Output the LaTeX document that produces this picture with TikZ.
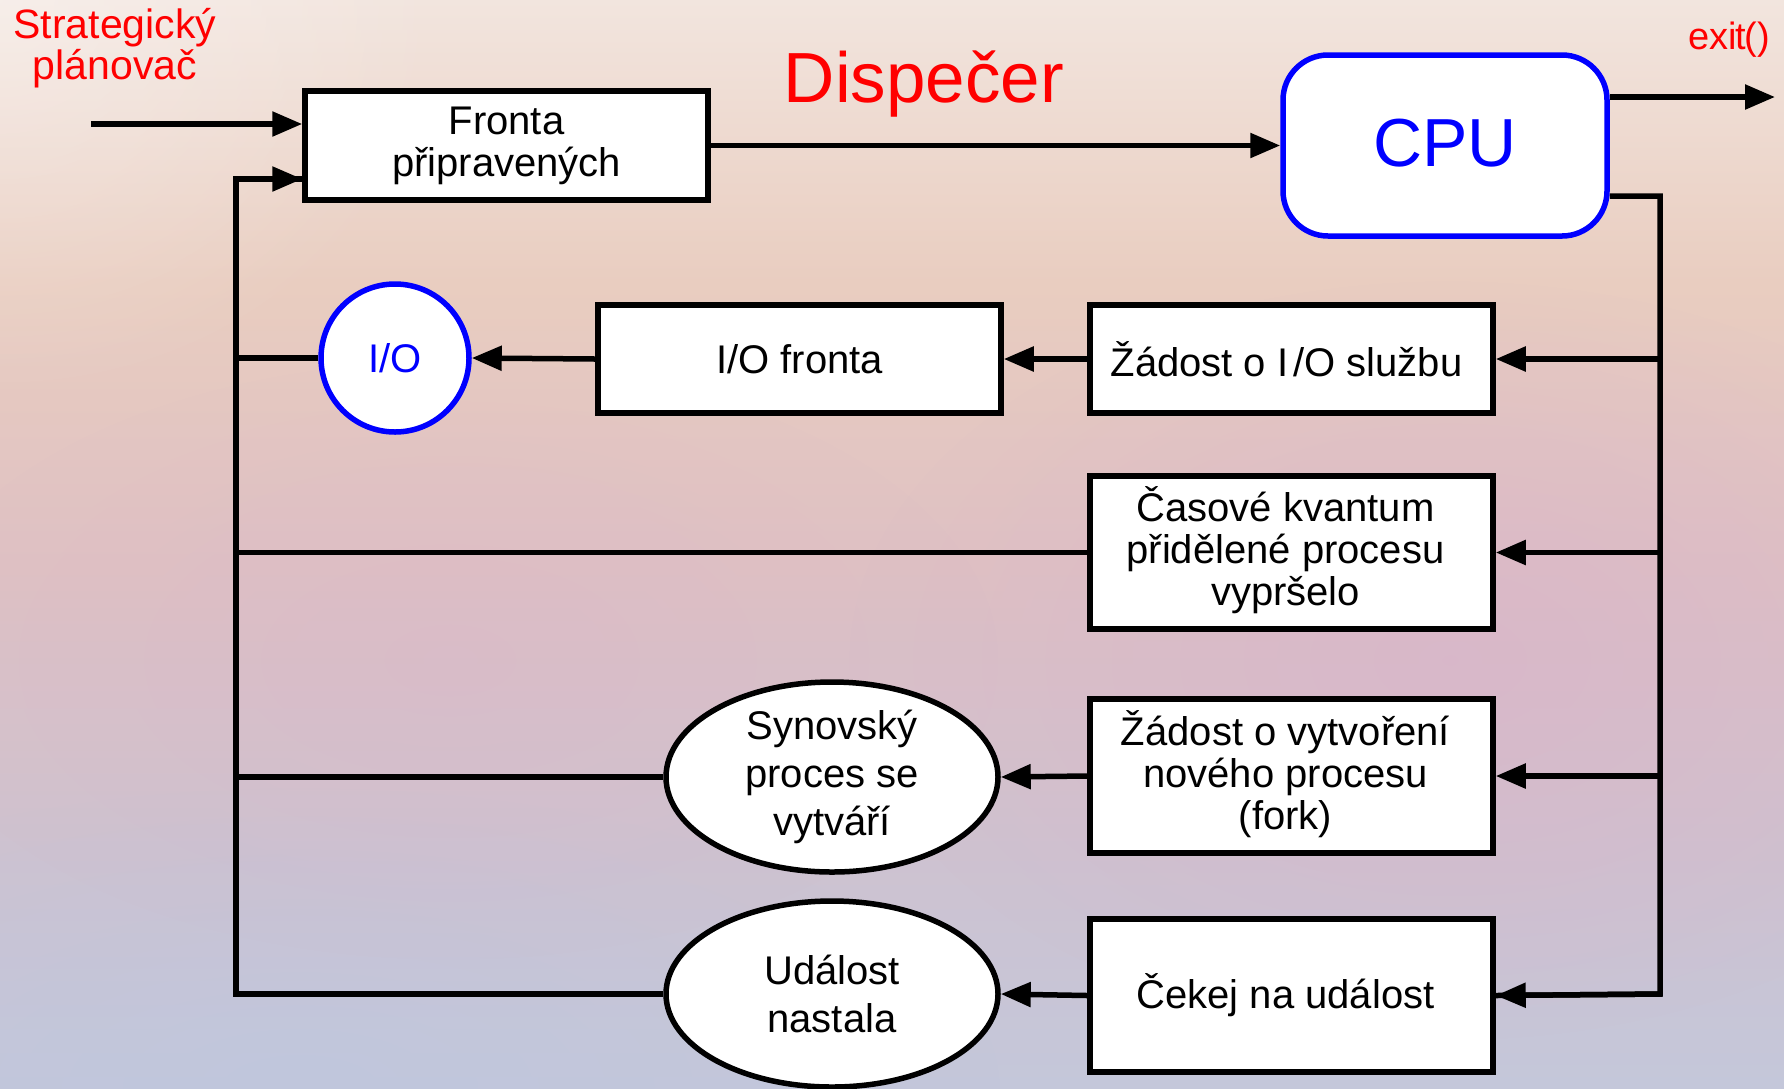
\documentclass[tikz,border=0pt]{standalone}
\usepackage{fontspec}
\setmainfont{Liberation Sans}
\usetikzlibrary{arrows.meta,shapes.geometric,fadings}
\tikzfading[name=blobfade, inner color=transparent!0, outer color=transparent!100]
\definecolor{lblue}{HTML}{0000FF}
\definecolor{lred}{HTML}{FF0000}
\definecolor{bgA}{HTML}{F2E5DE}
\definecolor{bgB}{HTML}{E9CDC0}
\definecolor{bgC}{HTML}{DFC1C3}
\definecolor{bgD}{HTML}{CEC2D0}
\definecolor{bgE}{HTML}{C4C7DA}
\definecolor{bgpink}{HTML}{D8B4CA}
\definecolor{bgblue}{HTML}{BCC6E0}
\pgfdeclareverticalshading{bgshade}{100bp}{color(0bp)=(bgE); color(25bp)=(bgE); color(36bp)=(bgD); color(49bp)=(bgC); color(62bp)=(bgB); color(75bp)=(bgA); color(100bp)=(bgA)}
\begin{document}
\begin{tikzpicture}[x=1pt,y=-1pt,
  every node/.style={inner sep=0pt},
  wbox/.style={draw=black, fill=white, line width=5.5pt, minimum width=403pt, align=center,
     font=\fontsize{40}{42}\selectfont},
  wellipse/.style={draw=black, fill=white, line width=5.5pt, ellipse, minimum width=332pt, align=center,
     font=\fontsize{40}{48}\selectfont},
  conn/.style={line width=5.5pt, line join=miter},
  arr/.style={conn, -{Triangle[length=30pt,width=24pt]}},
  redlabel/.style={text=lred, align=center}
]
% background
\useasboundingbox (0,0) rectangle (1784,1088);
\shade[shading=bgshade] (0,0) rectangle (1784,1088);
\fill[color=bgpink, path fading=blobfade, opacity=0.7] (1450,660) ellipse (600 and 380);
\fill[color=bgpink, path fading=blobfade, opacity=0.35] (450,660) ellipse (550 and 300);
\fill[color=bgblue, path fading=blobfade, opacity=0.5] (300,1088) ellipse (700 and 300);
\fill[color=white, path fading=blobfade, opacity=0.35] (0,0) ellipse (450 and 400);

% nodes
\node[wbox, minimum height=109pt] (fronta) at (506.5,145.5) {Fronta\\připravených};
\node[draw=lblue, fill=white, line width=5.5pt, rounded corners=45pt, minimum width=324pt, minimum height=181pt,
      text=lblue, font=\fontsize{68}{68}\selectfont] (cpu) at (1445,145.5) {\raisebox{5pt}{CPU}};
\node[draw=lblue, fill=white, line width=5.5pt, circle, minimum size=148pt, text=lblue,
      font=\fontsize{40}{40}\selectfont] (io) at (395,358) {I/O};
\node[wbox, minimum height=108pt] (iofronta) at (799.5,359) {I/O fronta};
\node[wbox, minimum height=108pt] (zadostio) at (1291.5,359) {\hspace*{-10pt}Žádost o I\hspace{5pt}/O službu};
\node[wbox, minimum height=153pt] (casove) at (1291.5,552.5) {\hspace*{-12pt}\begin{tabular}{@{}c@{}}Časové kvantum\\přidělené procesu\\vypršelo\end{tabular}};
\node[wbox, minimum height=154pt] (zadostfork) at (1291.5,776) {\hspace*{-12pt}\begin{tabular}{@{}c@{}}Žádost o vytvoření\\nového procesu\\(fork)\end{tabular}};
\node[wellipse, minimum height=190pt] (synovsky) at (832,777) {Synovský\\proces se\\vytváří};
\node[wbox, minimum height=153pt] (cekej) at (1291.5,995.5) {\hspace*{-12pt}Čekej na událost};
\node[wellipse, minimum height=186pt] (udalost) at (832,994) {Událost\\nastala};

% labels
\node[redlabel, font=\fontsize{41}{41}\selectfont] (strat) at (115,48) {Strategický\\plánovač};
\node[text=lred, font=\fontsize{71}{71}\selectfont] (disp) at (924,84) {Dispečer};
\node[text=lred, font=\fontsize{38}{38}\selectfont] (exitl) at (1729,40) {exi\kern-1pt t\kern-2pt()};

% coordinates
\coordinate (instart) at (91,124);
\coordinate (lvtop) at (236,179);
\coordinate (lvbot) at (236,994);
\coordinate (rvtop) at (1660,196);
\coordinate (rvbot) at (1660,994);
\coordinate (exitend) at (1775,97);

% connectors
\draw[arr] (instart) -- (instart -| fronta.west);
\draw[arr] (fronta.east) -- (cpu.west);
\draw[arr] (cpu.east |- exitend) -- (exitend);
\draw[conn] (cpu.east |- rvtop) -- (rvtop) -- (rvbot) -- (cekej.east);
\draw[arr] (rvbot) -- (cekej.east);
\draw[arr] (zadostio.east -| rvtop) -- (zadostio.east);
\draw[arr] (casove.east -| rvtop) -- (casove.east);
\draw[arr] (zadostfork.east -| rvtop) -- (zadostfork.east);
\draw[arr] (zadostio.west) -- (iofronta.east);
\draw[arr] (iofronta.west) -- (io.east);
\draw[arr] (zadostfork.west) -- (synovsky.east);
\draw[arr] (cekej.west) -- (udalost.east);
\draw[conn] (udalost.west) -- (lvbot) -- (lvtop) -- (lvtop -| fronta.west);
\draw[arr] (lvtop) -- (lvtop -| fronta.west);
\draw[conn] (io.west) -- (io.west -| lvtop);
\draw[conn] (casove.west) -- (casove.west -| lvtop);
\draw[conn] (synovsky.west) -- (synovsky.west -| lvtop);
\end{tikzpicture}
\end{document}
